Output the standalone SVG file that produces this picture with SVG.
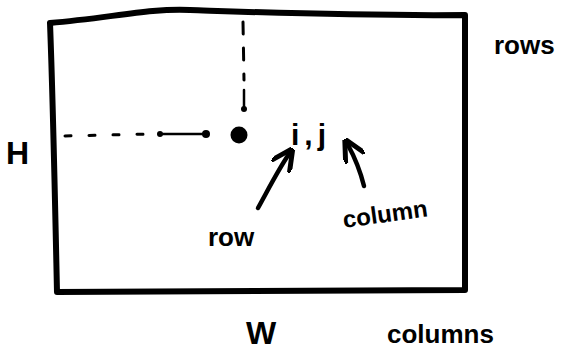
<svg xmlns="http://www.w3.org/2000/svg" width="570" height="354" viewBox="0 0 570 354">
<style>
.ink{fill:none;stroke:#000;stroke-linecap:round;stroke-linejoin:round}
.t{font-family:"Liberation Sans",Arial,sans-serif;font-weight:bold;fill:#000}
</style>
<defs>
<marker id="ah" viewBox="0 0 10 10" refX="7" refY="5" markerWidth="5" markerHeight="5" orient="auto">
<path d="M0,0 L10,5 L0,10" fill="none" stroke="#000" stroke-width="2.2" stroke-linecap="round" stroke-linejoin="round"/>
</marker>
</defs>
<rect width="570" height="354" fill="#fff"/>
<g id="frame">
<path class="ink" stroke-width="6" d="M50,23 C110,18 150,8 190,10 C250,12 350,16 465,15 L465,290 L57,292 C55,200 53,100 50,23"/>
</g>
<g id="guides">
<path class="ink" stroke-width="3" stroke-dasharray="6,18" d="M65,136 L150,134"/>
<path class="ink" stroke-width="2.5" d="M160,134 L206,134"/>
<circle cx="160" cy="134" r="3"/>
<circle cx="206" cy="134" r="4"/>
<path class="ink" stroke-width="3" stroke-dasharray="12,14" d="M243,22 L244,80"/>
<path class="ink" stroke-width="2.5" d="M244,90 L244,108"/>
<circle cx="244" cy="109" r="3"/>
<circle cx="239" cy="135" r="8.5"/>
</g>
<g id="connectors">
<path class="ink" stroke-width="4.5" marker-end="url(#ah)" d="M258,208 C268,190 278,170 289,154"/>
<path class="ink" stroke-width="4.5" marker-end="url(#ah)" d="M364,186 C360,170 354,156 348,145"/>
</g>
<g id="labels">
<text class="t" x="6" y="164" font-size="32">H</text>
<text class="t" x="291" y="145" font-size="30" letter-spacing="5">i,j</text>
<text class="t" x="208" y="246" font-size="26">row</text>
<text class="t" x="344" y="228" font-size="24" transform="rotate(-8 344 228)">column</text>
<text class="t" x="494" y="54" font-size="26">rows</text>
<text class="t" x="246" y="344" font-size="32">W</text>
<text class="t" x="387" y="343" font-size="26">columns</text>
</g>
</svg>
